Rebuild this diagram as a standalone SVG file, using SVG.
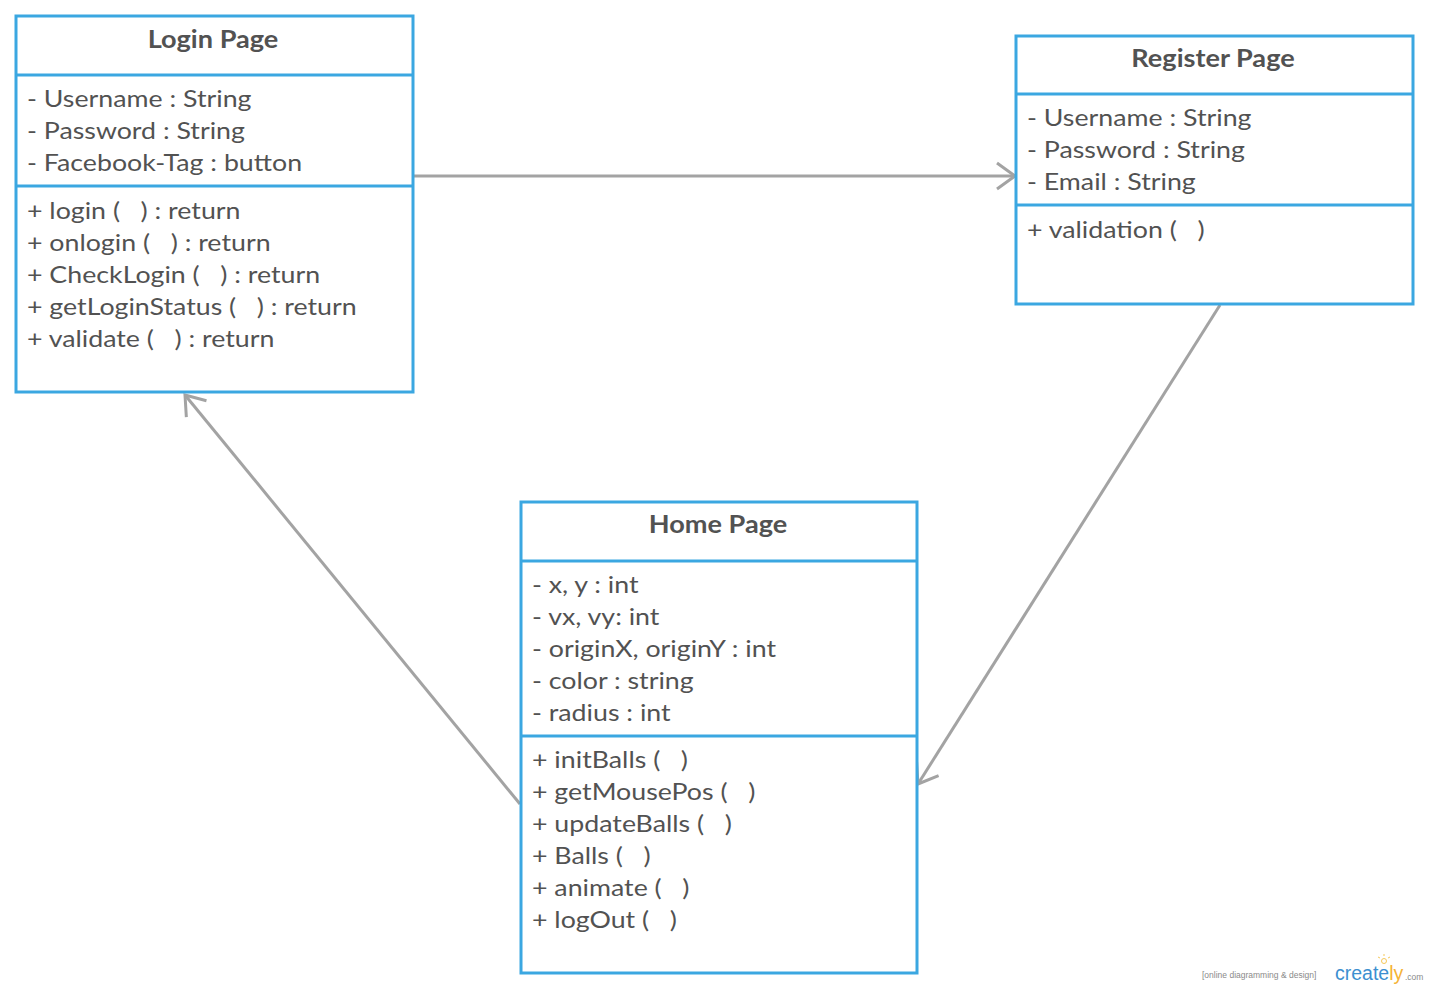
<svg xmlns="http://www.w3.org/2000/svg" width="1429" height="990" viewBox="0 0 1429 990">
  <style>
    .box { fill: #ffffff; stroke: #3ba7e1; stroke-width: 3; }
    .div { stroke: #3ba7e1; stroke-width: 3; }
    .title { font-family: Lato, "Open Sans", sans-serif; font-weight: bold; font-size: 24px; fill: #525252; text-anchor: middle; }
    .item { font-family: Lato, "Open Sans", sans-serif; font-size: 24px; fill: #525252; }
    .conn { fill: none; stroke: #a3a3a3; stroke-width: 3; }
  </style>
  <defs>
    <marker id="open" markerUnits="userSpaceOnUse" markerWidth="40" markerHeight="40" viewBox="-22 -20 26 40" refX="0" refY="0" orient="auto">
      <path d="M -18 -13 L 0 0 L -18 13" fill="none" stroke="#a3a3a3" stroke-width="3"/>
    </marker>
  </defs>
  <rect width="1429" height="990" fill="#ffffff"/>

  <!-- connectors -->
  <g id="connectors">
    <line class="conn" x1="413" y1="176" x2="1015" y2="176" marker-end="url(#open)"/>
    <line class="conn" x1="1220" y1="305" x2="918" y2="784" marker-end="url(#open)"/>
    <line class="conn" x1="520" y1="804" x2="185" y2="395" marker-end="url(#open)"/>
  </g>

  <!-- Login Page -->
  <g id="login-page">
    <rect class="box" x="16" y="16" width="397" height="376"/>
    <line class="div" x1="16" y1="75" x2="413" y2="75"/>
    <line class="div" x1="16" y1="186" x2="413" y2="186"/>
    <text class="title" transform="translate(213,48) scale(1.13,1)">Login Page</text>
    <g transform="translate(27,0) scale(1.115,1)">
      <text class="item" y="107">- Username : String</text>
      <text class="item" y="139">- Password : String</text>
      <text class="item" y="171">- Facebook-Tag : button</text>
      <text class="item" y="219" xml:space="preserve">+ login (   ) : return</text>
      <text class="item" y="251" xml:space="preserve">+ onlogin (   ) : return</text>
      <text class="item" y="283" xml:space="preserve">+ CheckLogin (   ) : return</text>
      <text class="item" y="315" xml:space="preserve">+ getLoginStatus (   ) : return</text>
      <text class="item" y="347" xml:space="preserve">+ validate (   ) : return</text>
    </g>
  </g>

  <!-- Register Page -->
  <g id="register-page">
    <rect class="box" x="1016" y="36" width="397" height="268"/>
    <line class="div" x1="1016" y1="94" x2="1413" y2="94"/>
    <line class="div" x1="1016" y1="205" x2="1413" y2="205"/>
    <text class="title" transform="translate(1213,67) scale(1.13,1)">Register Page</text>
    <g transform="translate(1027,0) scale(1.115,1)">
      <text class="item" y="126">- Username : String</text>
      <text class="item" y="158">- Password : String</text>
      <text class="item" y="190">- Email : String</text>
      <text class="item" y="238" xml:space="preserve">+ validation (   )</text>
    </g>
  </g>

  <!-- Home Page -->
  <g id="home-page">
    <rect class="box" x="521" y="502" width="396" height="471"/>
    <line class="div" x1="521" y1="561" x2="917" y2="561"/>
    <line class="div" x1="521" y1="736" x2="917" y2="736"/>
    <text class="title" transform="translate(718,533) scale(1.13,1)">Home Page</text>
    <g transform="translate(532,0) scale(1.115,1)">
      <text class="item" y="593">- x, y : int</text>
      <text class="item" y="625">- vx, vy: int</text>
      <text class="item" y="657">- originX, originY : int</text>
      <text class="item" y="689">- color : string</text>
      <text class="item" y="721">- radius : int</text>
      <text class="item" y="768" xml:space="preserve">+ initBalls (   )</text>
      <text class="item" y="800" xml:space="preserve">+ getMousePos (   )</text>
      <text class="item" y="832" xml:space="preserve">+ updateBalls (   )</text>
      <text class="item" y="864" xml:space="preserve">+ Balls (   )</text>
      <text class="item" y="896" xml:space="preserve">+ animate (   )</text>
      <text class="item" y="928" xml:space="preserve">+ logOut (   )</text>
    </g>
  </g>

  <!-- watermark -->
  <g id="watermark" font-family="Liberation Sans, Arial, sans-serif">
    <text x="1202" y="978" font-size="8.5" fill="#8a8a8a">[online diagramming &amp; design]</text>
    <text x="1335" y="980" font-size="19.5" fill="#3c8fd0">create<tspan fill="#f5b335">ly</tspan></text>
    <text x="1405" y="980" font-size="8.5" fill="#8a8a8a">.com</text>
    <g stroke="#f5c85a" stroke-width="1" fill="none">
      <circle cx="1384" cy="961" r="2.5"/>
      <line x1="1384" y1="954" x2="1384" y2="956"/>
      <line x1="1378" y1="957" x2="1380" y2="958"/>
      <line x1="1390" y1="957" x2="1388" y2="958"/>
    </g>
  </g>
</svg>
